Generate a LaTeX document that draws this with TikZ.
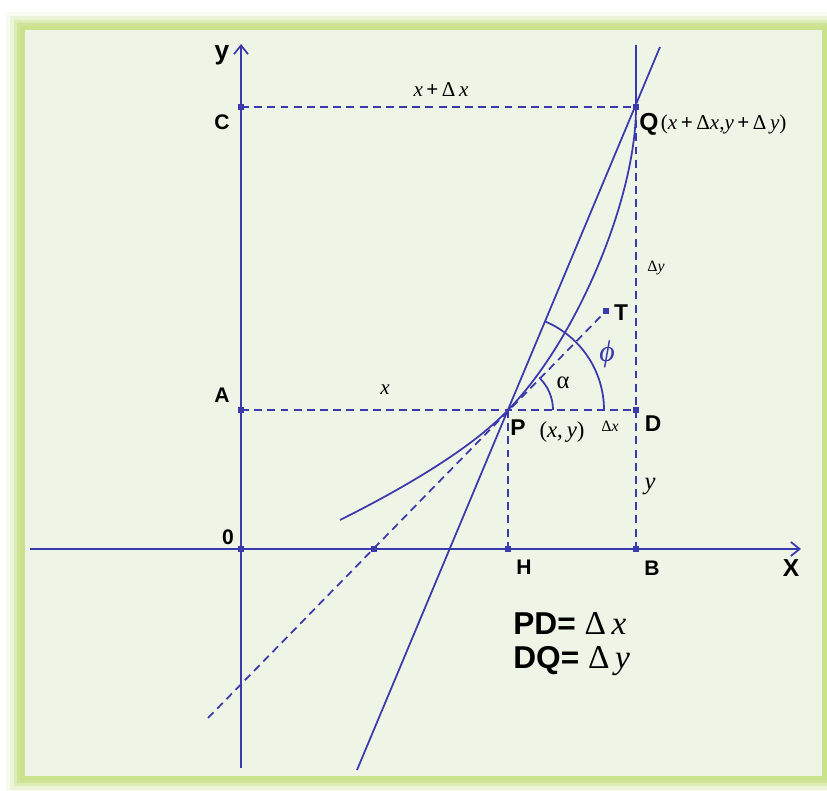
\documentclass[tikz,border=0pt]{standalone}
\usepackage{fontspec}
\setmainfont{Liberation Serif}
\setsansfont{Liberation Sans}
\usepackage{tikz}
\usetikzlibrary{arrows.meta, calc}
\definecolor{linecol}{RGB}{58,58,172}
\definecolor{panel}{RGB}{239,245,230}
\definecolor{glow}{RGB}{203,226,140}
\newcommand{\vr}[1]{\textit{#1}}
\tikzset{
    curve/.style={linecol, line width=1pt},
    dashline/.style={linecol, line width=1pt, dash pattern=on 4.5pt off 3pt},
    axis/.style={linecol, line width=1pt, -{Straight Barb[length=5pt,width=8pt]}},
    lbl/.style={font=\sffamily\bfseries\fontsize{12}{13}\selectfont, inner sep=0pt},
    mlbl/.style={font=\fontsize{12}{14}\selectfont, inner sep=0pt},
    pt/.style={fill=linecol, minimum size=3pt, inner sep=0pt}
}
\begin{document}
\begin{tikzpicture}[x=0.02cm, y=-0.02cm]
        % Background and frame
        \useasboundingbox (0,0) rectangle (827,790);
        \fill[white] (0,0) rectangle (827,790);
        \foreach \d/\o in {16/0.12, 12/0.25, 8/0.45, 5/0.7, 2/1} {
            \fill[glow, opacity=\o] (22-\d,28-\d) rectangle (827,778+\d);
        }
        \fill[panel] (25,30) rectangle (822,776);

        % Points
        \coordinate (O) at (241,549);
        \coordinate (C) at (241,107);
        \coordinate (A) at (241,410);
        \coordinate (P) at (508,410);
        \coordinate (Q) at (636,107);
        \coordinate (D) at (636,410);
        \coordinate (B) at (636,549);
        \coordinate (H) at (508,549);
        \coordinate (M) at (374,549);
        \coordinate (T) at (606,311);

        % Axes
        \coordinate (xs) at (30,549);
        \coordinate (xe) at (801,549);
        \coordinate (ys) at (241,768);
        \coordinate (ye) at (241,44);
        \draw[axis] (xs) -- (xe);
        \draw[axis] (ys) -- (ye);

        % Dashed projections
        \draw[dashline] (C) -- (Q);
        \draw[dashline] (A) -- (P) -- (D);
        \draw[dashline] (P) -- (H);
        \draw[dashline] (Q) -- (B);

        % Tangent line at P
        \coordinate (t0) at (208,718);
        \draw[dashline] (t0) -- (T);

        % Secant line through P and Q
        \coordinate (s0) at (357,770);
        \coordinate (s1) at (660,47);
        \draw[curve] (s0) -- (s1);

        % The curve
        \coordinate (c0) at (340,520);
        \coordinate (c1) at (636,45);
        \draw[curve] (c0) .. controls (400,490) and (470,450) .. (P)
            .. controls (575,342) and (636,200) .. (Q) -- (c1);

        % Angles
        \draw[curve] ($(P)+(45,0)$) arc[start angle=0, end angle=-46, radius=45];
        \draw[curve] ($(P)+(96,0)$) arc[start angle=0, end angle=-67, radius=96];

        % Marks on the points
        \foreach \p in {O,C,A,D,B,H,M,Q,T} {
            \node[pt] at (\p) {};
        }

        % Axis labels
        \node[lbl, font=\sffamily\bfseries\fontsize{15}{16}\selectfont] (ylab) at (222,55) {y};
        \node[lbl, font=\sffamily\bfseries\fontsize{14}{15}\selectfont] (xlab) at (791,568) {X};
        \node[lbl] (olab) at (228,537) {0};

        % Point labels
        \node[lbl] (clab) at (222,122) {C};
        \node[lbl] (alab) at (222,395) {A};
        \node[lbl, font=\sffamily\bfseries\fontsize{13}{14}\selectfont] (plab) at (518,428) {P};
        \node[lbl, font=\sffamily\bfseries\fontsize{13}{14}\selectfont] (dlab) at (653,424) {D};
        \node[lbl] (hlab) at (524,567) {H};
        \node[lbl] (blab) at (652,568) {B};
        \node[lbl, font=\sffamily\bfseries\fontsize{13}{14}\selectfont] (tlab) at (621,313) {T};
        \node[lbl, font=\sffamily\bfseries\fontsize{14}{15}\selectfont, anchor=west] (qlab) at (639,124) {Q};
        \node[mlbl, anchor=west] (qco) at ([xshift=1pt]qlab.east)
            {(\vr{x}\,\textbf{+}\,Δ\vr{x},\vr{y}\,\textbf{+}\,Δ\,\vr{y})};

        % Lengths
        \node[mlbl] (dx1) at (441,90) {\vr{x}\,\textbf{+}\,Δ\,\vr{x}};
        \node[mlbl] (x1) at (385,390) {\vr{x}};
        \node[mlbl, font=\fontsize{13}{14}\selectfont] (pco) at (562,432) {(\vr{x},\,\vr{y})};
        \node[mlbl, font=\fontsize{9}{10}\selectfont] (dx2) at (610,426) {Δ\vr{x}};
        \node[mlbl, font=\fontsize{9}{10}\selectfont] (dy1) at (656,268) {Δ\vr{y}};
        \node[mlbl, font=\fontsize{14}{15}\selectfont] (y1) at (650,487) {\vr{y}};
        \node[mlbl, font=\fontsize{14}{15}\selectfont] (alpha) at (563,383) {α};
        \node[mlbl, text=linecol, font=\fontsize{17}{18}\selectfont] (phi) at (607,354) {\vr{ϕ}};

        % Result
        \node[anchor=west, inner sep=0pt] (res1) at (513,623)
            {{\sffamily\bfseries\fontsize{18}{20}\selectfont PD=}\ \ {\fontsize{19}{21}\selectfont Δ\,\vr{x}}};
        \node[anchor=west, inner sep=0pt] (res2) at (513,661)
            {{\sffamily\bfseries\fontsize{18}{20}\selectfont DQ=}\ \ {\fontsize{19}{21}\selectfont Δ\,\vr{y}}};
    \end{tikzpicture}
\end{document}
